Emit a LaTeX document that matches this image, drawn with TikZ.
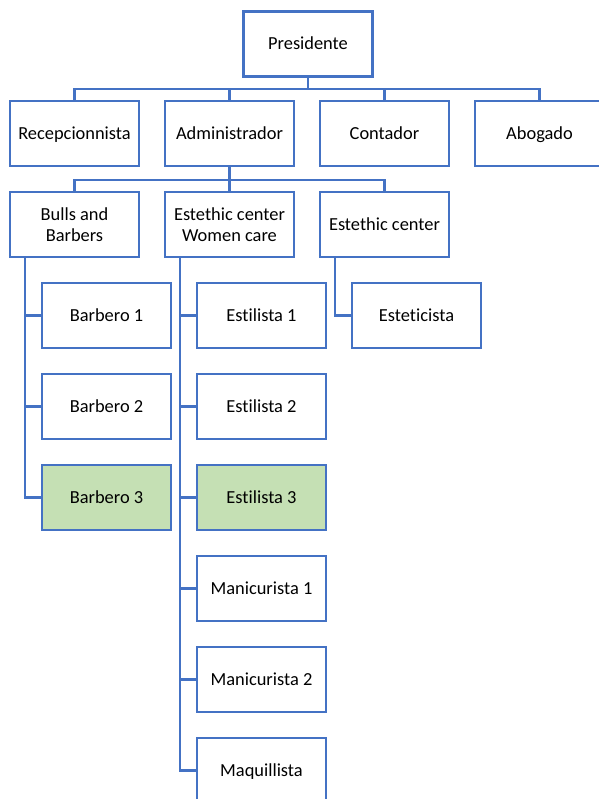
\documentclass[tikz,border=0pt]{standalone}
\usepackage{fontspec}
\setmainfont{Carlito}[RawFeature=-liga]
\usetikzlibrary{positioning}
\definecolor{orgblue}{HTML}{4472C4}
\definecolor{orggreen}{HTML}{C5E0B4}
\tikzset{
	boxbase/.style = {draw=orgblue, line width=2.5pt, fill=white,
		minimum width=129pt, minimum height=65pt, align=center,
		font=\fontsize{18.4}{21.5}\selectfont},
	box/.style = {boxbase, text height=14.5pt, text depth=3pt},
	greenbox/.style = {box, fill=orggreen},
	conn/.style = {draw=orgblue, line width=2.5pt}
}
\begin{document}
\begin{tikzpicture}[x=1pt, y=1pt]
	\useasboundingbox (0,0) rectangle (598,-799);
	
	% top levels
	\node[box] (pres) at (308,-44) {Presidente};
	\node[box] (rec) at (74.5,-133.5) {Recepcionnista};
	\node[box] (adm) at (229.5,-133.5) {Administrador};
	\node[box] (con) at (384.5,-133.5) {Contador};
	\node[box] (abo) at (539.5,-133.5) {Abogado};
	
	\node[boxbase] (bulls) at (74.5,-224.5) {Bulls and\\Barbers};
	\node[boxbase] (wcare) at (229.5,-224.5) {Estethic center\\Women care};
	\node[box] (estc) at (384.5,-224.5) {Estethic center};
	
	% branches
	\node[box] (bar1) at (106.5,-315.5) {Barbero 1};
	\node[box] (bar2) at (106.5,-406.5) {Barbero 2};
	\node[greenbox] (bar3) at (106.5,-497.5) {Barbero 3};
	
	\node[box] (sty1) at (261.5,-315.5) {Estilista 1};
	\node[box] (sty2) at (261.5,-406.5) {Estilista 2};
	\node[greenbox] (sty3) at (261.5,-497.5) {Estilista 3};
	\node[box] (man1) at (261.5,-588.5) {Manicurista 1};
	\node[box] (man2) at (261.5,-679.5) {Manicurista 2};
	\node[box] (maq) at (261.5,-770.5) {Maquillista};
	
	\node[box] (este) at (416.5,-315.5) {Esteticista};
	
	% connectors
	\coordinate (bus1) at (308,-89);
	\coordinate (bus2) at (229.5,-180);
	\draw[conn] (pres.south) -- (bus1);
	\foreach \n in {rec,adm,con,abo}
		\draw[conn] (bus1) -| (\n.north);
	\draw[conn] (adm.south) -- (bus2);
	\foreach \n in {bulls,wcare,estc}
		\draw[conn] (bus2) -| (\n.north);
	
	\coordinate (bspine) at ([xshift=16pt]bulls.south west);
	\coordinate (wspine) at ([xshift=16pt]wcare.south west);
	\coordinate (espine) at ([xshift=16pt]estc.south west);
	\foreach \n in {bar1,bar2,bar3}
		\draw[conn] (bspine) |- (\n.west);
	\foreach \n in {sty1,sty2,sty3,man1,man2,maq}
		\draw[conn] (wspine) |- (\n.west);
	\draw[conn] (espine) |- (este.west);
\end{tikzpicture}
\end{document}
